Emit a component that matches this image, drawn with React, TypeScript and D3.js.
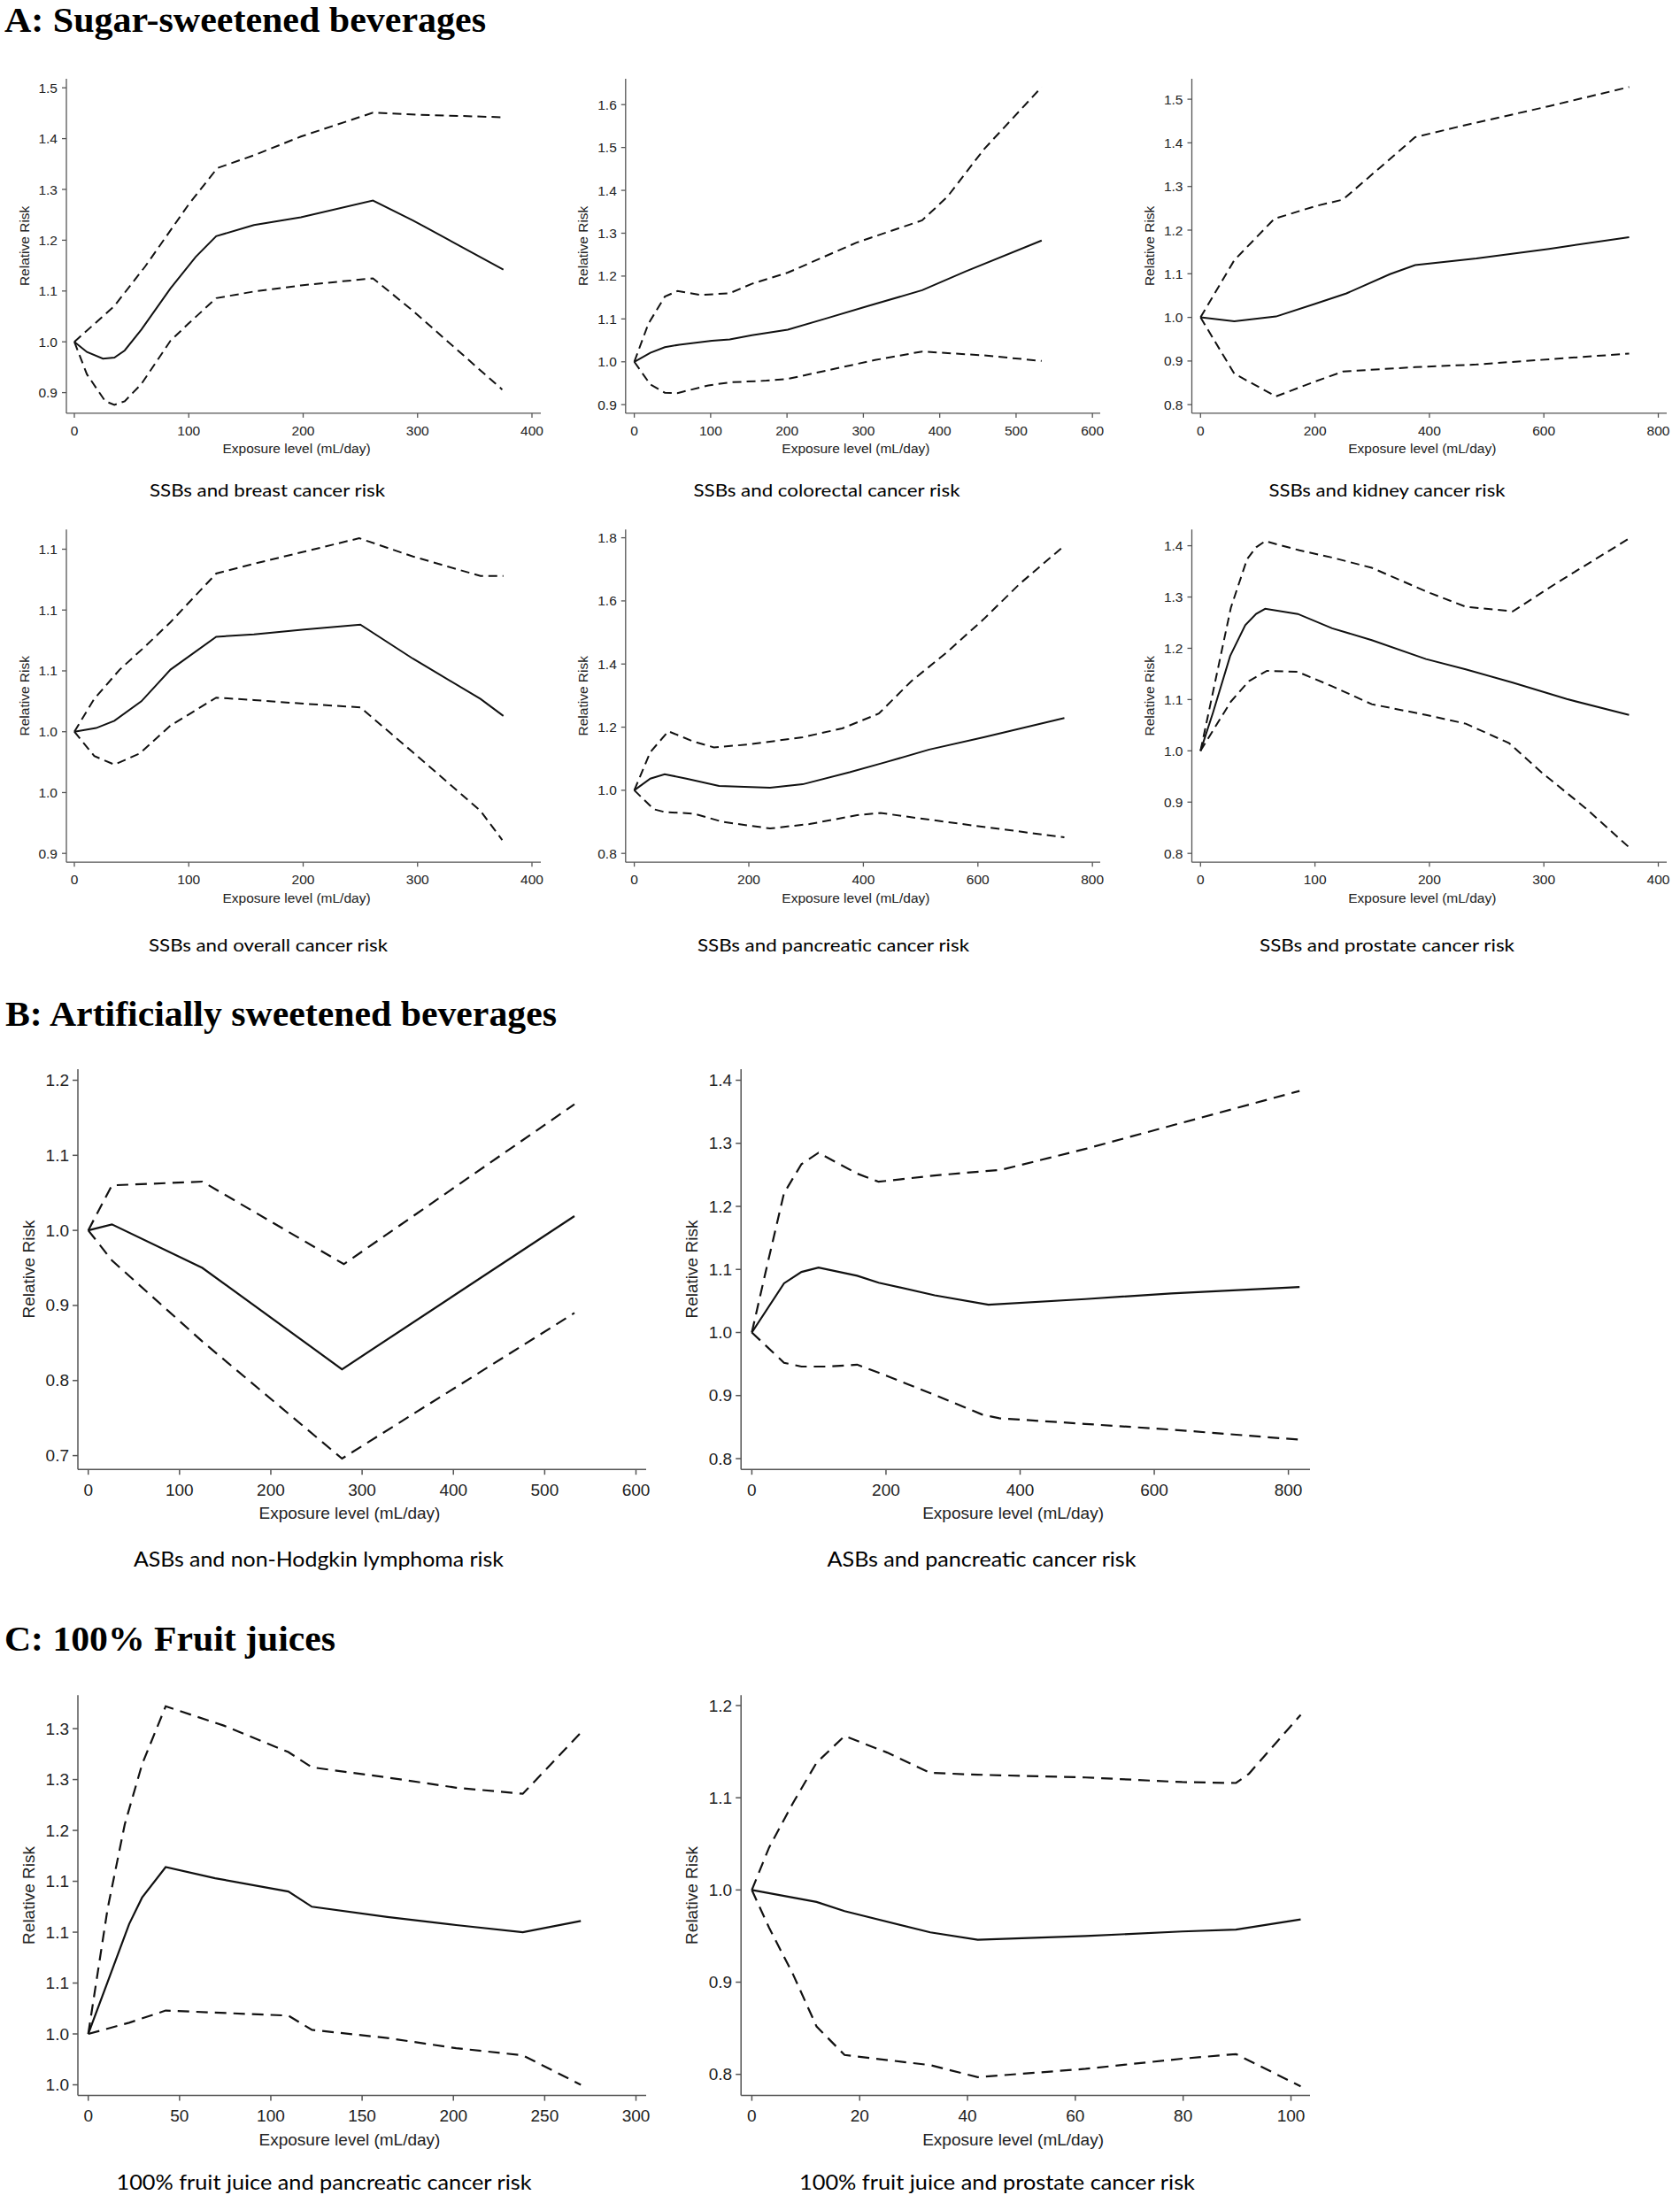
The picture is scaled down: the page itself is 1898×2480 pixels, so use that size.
import React from "react";
import * as d3 from "d3";

type Pt = [number, number];

// ---------- Data (exposure mL/day, relative risk) ----------
// A1: SSBs and breast cancer
const breastUpper: Pt[] = [[0,1.0],[34.8,1.07],[61.8,1.148],[99.8,1.27],[125,1.342],[156.8,1.367],[198,1.404],[261,1.451],[302,1.447],[375,1.442]];
const breastRR: Pt[] = [[0,1.0],[11,0.98],[25,0.967],[35,0.969],[44,0.983],[58.6,1.024],[84,1.105],[106,1.167],[124,1.208],[157,1.23],[198,1.245],[261,1.278],[296,1.239],[375,1.142]];
const breastLower: Pt[] = [[0,1.0],[11,0.936],[27,0.883],[35,0.876],[44,0.883],[58.6,0.917],[84,1.002],[99.8,1.036],[124,1.086],[157,1.099],[198,1.111],[261,1.125],[296,1.061],[374,0.906]];

// A2: SSBs and colorectal cancer
const colorectalUpper: Pt[] = [[0,1.0],[18.5,1.089],[40,1.152],[56.5,1.165],[87,1.156],[125,1.16],[154,1.182],[201,1.208],[291,1.278],[377,1.33],[410,1.385],[458,1.496],[533.5,1.641]];
const colorectalRR: Pt[] = [[0,1.0],[21,1.021],[40,1.034],[59,1.04],[101.6,1.049],[125,1.052],[154,1.062],[201,1.075],[249,1.1],[306,1.13],[377,1.167],[434,1.211],[533.5,1.283]];
const colorectalLower: Pt[] = [[0,1.0],[21,0.947],[40,0.928],[56.5,0.927],[97,0.945],[125,0.952],[173,0.956],[201,0.96],[258,0.982],[315,1.004],[377,1.024],[458,1.015],[533.5,1.002]];

// A3: SSBs and kidney cancer
const kidneyUpper: Pt[] = [[0,1.0],[59,1.131],[129,1.226],[201,1.255],[249,1.27],[375,1.413],[451,1.437],[609,1.484],[749,1.528]];
const kidneyRR: Pt[] = [[0,1.0],[59,0.991],[132,1.002],[198,1.03],[255,1.055],[331,1.099],[375,1.12],[482,1.135],[609,1.157],[749,1.184]];
const kidneyLower: Pt[] = [[0,1.0],[59,0.871],[132,0.819],[198,0.852],[249,0.876],[375,0.886],[482,0.892],[609,0.904],[749,0.917]];

// A4: SSBs and overall cancer
const overallUpper: Pt[] = [[0,1.0],[17.4,1.027],[39.6,1.051],[61.8,1.07],[84,1.09],[124,1.13],[157,1.138],[201,1.148],[249,1.159],[296,1.144],[355,1.128],[375,1.128]];
const overallRR: Pt[] = [[0,1.0],[19,1.003],[35,1.009],[58.6,1.025],[84,1.051],[124,1.078],[157,1.08],[201,1.084],[250,1.088],[296,1.06],[355,1.027],[375,1.013]];
const overallLower: Pt[] = [[0,1.0],[17.4,0.98],[35,0.973],[57,0.982],[84,1.005],[124,1.028],[157,1.026],[201,1.023],[250,1.02],[296,0.983],[355,0.935],[374,0.911]];

// A5: SSBs and pancreatic cancer
const pancUpper: Pt[] = [[0,1.0],[28,1.121],[59.5,1.187],[104,1.154],[139,1.136],[199,1.145],[294,1.168],[363,1.196],[427,1.243],[484,1.346],[547,1.439],[610,1.542],[673,1.654],[751,1.775]];
const pancRR: Pt[] = [[0,1.0],[28,1.037],[53,1.051],[91,1.037],[148,1.014],[237,1.008],[294,1.019],[376,1.057],[439,1.089],[515,1.129],[610,1.168],[751,1.229]];
const pancLower: Pt[] = [[0,1.0],[34,0.94],[53,0.931],[104,0.926],[154,0.9],[237,0.879],[306,0.893],[389,0.921],[430,0.928],[515,0.907],[610,0.884],[751,0.851]];

// A6: SSBs and prostate cancer
const prostateUpper: Pt[] = [[0,1.0],[26.5,1.279],[40.7,1.374],[48.6,1.397],[56.5,1.409],[86.5,1.391],[115,1.377],[149.6,1.357],[197,1.311],[231.7,1.281],[272.8,1.272],[313.8,1.331],[374.4,1.414]];
const prostateRR: Pt[] = [[0,1.0],[10.7,1.073],[25.9,1.185],[39.1,1.245],[48.6,1.267],[56.5,1.277],[85,1.267],[115,1.239],[149.6,1.216],[197,1.179],[231.7,1.159],[272.8,1.133],[320,1.101],[374.4,1.07]];
const prostateLower: Pt[] = [[0,1.0],[10.7,1.039],[26.5,1.096],[42.3,1.136],[58,1.156],[85,1.154],[115,1.126],[149.6,1.091],[197,1.07],[231.7,1.053],[269.6,1.015],[298,0.958],[336,0.889],[374.4,0.812]];

// B1: ASBs and non-Hodgkin lymphoma
const nhlUpper: Pt[] = [[0,1.0],[25.9,1.06],[125,1.065],[280,0.955],[532.6,1.168]];
const nhlRR: Pt[] = [[0,1.0],[25.9,1.008],[125,0.95],[278,0.815],[532.6,1.019]];
const nhlLower: Pt[] = [[0,1.0],[11.8,0.982],[25.9,0.96],[125,0.852],[278,0.696],[532.6,0.89]];

// B2: ASBs and pancreatic cancer
const asbPancUpper: Pt[] = [[0,1.0],[22.5,1.105],[48,1.221],[74,1.267],[99.4,1.285],[157,1.252],[189,1.239],[272.6,1.249],[372,1.258],[497,1.291],[625.5,1.328],[816.6,1.383]];
const asbPancRR: Pt[] = [[0,1.0],[48,1.078],[74,1.096],[99.4,1.103],[157,1.09],[189,1.079],[272.6,1.059],[352.8,1.044],[497,1.053],[625.5,1.062],[816.6,1.072]];
const asbPancLower: Pt[] = [[0,1.0],[48,0.952],[74,0.946],[112,0.946],[157,0.949],[202,0.931],[272.6,0.901],[343,0.87],[369,0.864],[497,0.855],[625.5,0.846],[816.6,0.83]];

// C1: 100% fruit juice and pancreatic cancer
const juicePancUpper: Pt[] = [[0,1.0],[10.6,1.123],[20,1.206],[29.5,1.265],[42.4,1.322],[74.2,1.303],[109.6,1.277],[122.5,1.262],[163.8,1.252],[201.5,1.242],[238,1.236],[269.8,1.296]];
const juicePancRR: Pt[] = [[0,1.0],[10.6,1.051],[22.4,1.108],[29.5,1.134],[42.4,1.164],[69.5,1.153],[109.6,1.14],[122.5,1.125],[163.8,1.115],[201.5,1.107],[238,1.1],[269.8,1.111]];
const juicePancLower: Pt[] = [[0,1.0],[22.4,1.011],[42.4,1.023],[109.6,1.018],[122.5,1.004],[163.8,0.996],[201.5,0.986],[238,0.979],[269.8,0.95]];

// C2: 100% fruit juice and prostate cancer
const juiceProUpper: Pt[] = [[0,1.0],[3.2,1.046],[7.6,1.094],[12,1.138],[17.2,1.167],[25.1,1.149],[33.1,1.127],[41.9,1.125],[61.9,1.122],[79.8,1.117],[89.8,1.116],[92.2,1.126],[101.8,1.19]];
const juiceProRR: Pt[] = [[0,1.0],[12,0.987],[17.2,0.977],[33.1,0.954],[41.9,0.946],[61.9,0.95],[79.8,0.955],[89.8,0.957],[101.8,0.968]];
const juiceProLower: Pt[] = [[0,1.0],[3.2,0.959],[7.6,0.909],[12,0.852],[17.2,0.821],[33.1,0.81],[41.9,0.797],[61.9,0.806],[79.8,0.817],[89.8,0.822],[101.8,0.787]];

// ---------- Ticks ----------
const yTicksBreast = [0.9, 1.0, 1.1, 1.2, 1.3, 1.4, 1.5];
const yTicksColorectal = [0.9, 1.0, 1.1, 1.2, 1.3, 1.4, 1.5, 1.6];
const yTicksKidney = [0.8, 0.9, 1.0, 1.1, 1.2, 1.3, 1.4, 1.5];
const yTicksOverall = [0.9, 0.95, 1.0, 1.05, 1.1, 1.15];
const yLabelsOverall = ["0.9", "1.0", "1.0", "1.1", "1.1", "1.1"];
const yTicksPanc = [0.8, 1.0, 1.2, 1.4, 1.6, 1.8];
const yTicksProstate = [0.8, 0.9, 1.0, 1.1, 1.2, 1.3, 1.4];
const yTicksNhl = [0.7, 0.8, 0.9, 1.0, 1.1, 1.2];
const yTicksAsbPanc = [0.8, 0.9, 1.0, 1.1, 1.2, 1.3, 1.4];
const yTicksJuicePanc = [0.95, 1.0, 1.05, 1.1, 1.15, 1.2, 1.25, 1.3];
const yLabelsJuicePanc = ["1.0", "1.0", "1.1", "1.1", "1.1", "1.2", "1.3", "1.3"];
const yTicksJuicePro = [0.8, 0.9, 1.0, 1.1, 1.2];

const xTicks400 = [0, 100, 200, 300, 400];
const xTicks600 = [0, 100, 200, 300, 400, 500, 600];
const xTicks800 = [0, 200, 400, 600, 800];
const xTicks300 = [0, 50, 100, 150, 200, 250, 300];
const xTicks100 = [0, 20, 40, 60, 80, 100];

const headings = ["A: Sugar-sweetened beverages", "B: Artificially sweetened beverages", "C: 100% Fruit juices"];
const yAxisTitle = "Relative Risk";
const xAxisTitle = "Exposure level (mL/day)";

// ---------- Layout (pixel positions) ----------
type Layout = {
  yAxisX: number; xAxisY: number; axisTop: number; axisRight: number;
  x0: number; x1: number; pyLo: number; pyHi: number;
  subX: number; subY: number; subW: number; g: "A" | "B";
};

const styleA = { tickFont: 15.5, tickLen: 5, dash: "10,6", lineW: 2, subFont: 20, xLabelOff: 19.5, xTitleOff: 40, yTitleOff: 48, xTitleShift: -8, labelGap: 10, axisW: 1.3 };
const styleB = { tickFont: 19, tickLen: 6, dash: "13,8", lineW: 2.2, subFont: 24, xLabelOff: 23.3, xTitleOff: 49.4, yTitleOff: 56, xTitleShift: -14, labelGap: 10, axisW: 1.5 };

type PanelDef = {
  upper: Pt[]; rr: Pt[]; lower: Pt[];
  yTicks: number[]; yLabels?: string[]; xTicks: number[];
  subtitle: string; layout: Layout;
};

const panels: PanelDef[] = [
  { upper: breastUpper, rr: breastRR, lower: breastLower, yTicks: yTicksBreast, xTicks: xTicks400, subtitle: "SSBs and breast cancer risk",
    layout: { yAxisX: 75, xAxisY: 466.9, axisTop: 88.9, axisRight: 611, x0: 84, x1: 601, pyLo: 443.6, pyHi: 99.2, subX: 302, subY: 561, subW: 266, g: "A" } },
  { upper: colorectalUpper, rr: colorectalRR, lower: colorectalLower, yTicks: yTicksColorectal, xTicks: xTicks600, subtitle: "SSBs and colorectal cancer risk",
    layout: { yAxisX: 706.8, xAxisY: 466.9, axisTop: 88.9, axisRight: 1243, x0: 716.6, x1: 1234.2, pyLo: 457.2, pyHi: 118.2, subX: 934, subY: 561, subW: 301, g: "A" } },
  { upper: kidneyUpper, rr: kidneyRR, lower: kidneyLower, yTicks: yTicksKidney, xTicks: xTicks800, subtitle: "SSBs and kidney cancer risk",
    layout: { yAxisX: 1346.5, xAxisY: 466.9, axisTop: 88.9, axisRight: 1883, x0: 1356.3, x1: 1873.5, pyLo: 457.2, pyHi: 112.1, subX: 1567, subY: 561, subW: 267, g: "A" } },
  { upper: overallUpper, rr: overallRR, lower: overallLower, yTicks: yTicksOverall, yLabels: yLabelsOverall, xTicks: xTicks400, subtitle: "SSBs and overall cancer risk",
    layout: { yAxisX: 75, xAxisY: 974.2, axisTop: 598.3, axisRight: 611, x0: 84, x1: 601, pyLo: 964.2, pyHi: 620.5, subX: 303, subY: 1074.5, subW: 270, g: "A" } },
  { upper: pancUpper, rr: pancRR, lower: pancLower, yTicks: yTicksPanc, xTicks: xTicks800, subtitle: "SSBs and pancreatic cancer risk",
    layout: { yAxisX: 706.8, xAxisY: 974.2, axisTop: 598.3, axisRight: 1243, x0: 716.6, x1: 1234.2, pyLo: 964.2, pyHi: 607.6, subX: 941.5, subY: 1074.5, subW: 307, g: "A" } },
  { upper: prostateUpper, rr: prostateRR, lower: prostateLower, yTicks: yTicksProstate, xTicks: xTicks400, subtitle: "SSBs and prostate cancer risk",
    layout: { yAxisX: 1346.5, xAxisY: 974.2, axisTop: 598.3, axisRight: 1883, x0: 1356.3, x1: 1873.5, pyLo: 964.2, pyHi: 616.6, subX: 1567, subY: 1074.5, subW: 288, g: "A" } },
  { upper: nhlUpper, rr: nhlRR, lower: nhlLower, yTicks: yTicksNhl, xTicks: xTicks600, subtitle: "ASBs and non-Hodgkin lymphoma risk",
    layout: { yAxisX: 88, xAxisY: 1660.2, axisTop: 1207.9, axisRight: 730, x0: 99.7, x1: 718.5, pyLo: 1644.6, pyHi: 1220.5, subX: 360, subY: 1770, subW: 418, g: "B" } },
  { upper: asbPancUpper, rr: asbPancRR, lower: asbPancLower, yTicks: yTicksAsbPanc, xTicks: xTicks800, subtitle: "ASBs and pancreatic cancer risk",
    layout: { yAxisX: 837.2, xAxisY: 1660.2, axisTop: 1207.9, axisRight: 1480, x0: 849.4, x1: 1455.6, pyLo: 1648, pyHi: 1220.5, subX: 1109, subY: 1770, subW: 349, g: "B" } },
  { upper: juicePancUpper, rr: juicePancRR, lower: juicePancLower, yTicks: yTicksJuicePanc, yLabels: yLabelsJuicePanc, xTicks: xTicks300, subtitle: "100% fruit juice and pancreatic cancer risk",
    layout: { yAxisX: 88, xAxisY: 2367.6, axisTop: 1915.3, axisRight: 730, x0: 99.7, x1: 718.5, pyLo: 2355.5, pyHi: 1953.1, subX: 366, subY: 2474, subW: 469, g: "B" } },
  { upper: juiceProUpper, rr: juiceProRR, lower: juiceProLower, yTicks: yTicksJuicePro, xTicks: xTicks100, subtitle: "100% fruit juice and prostate cancer risk",
    layout: { yAxisX: 837.2, xAxisY: 2367.6, axisTop: 1915.3, axisRight: 1480, x0: 849.4, x1: 1458.5, pyLo: 2343.7, pyHi: 1927, subX: 1126.5, subY: 2474, subW: 447, g: "B" } },
];

const headingPos = [
  { x: 5, y: 36, w: 544 },
  { x: 6, y: 1159, w: 623 },
  { x: 5, y: 1865, w: 374 },
];

const AXIS = "#555";
const TEXT = "#222";
const LINE = "#111";
const SANS = "'Liberation Sans', Arial, sans-serif";

function Panel({ p }: { p: PanelDef }) {
  const L = p.layout;
  const s = L.g === "A" ? styleA : styleB;
  const x = d3.scaleLinear().domain([0, p.xTicks[p.xTicks.length - 1]]).range([L.x0, L.x1]);
  const y = d3.scaleLinear().domain([p.yTicks[0], p.yTicks[p.yTicks.length - 1]]).range([L.pyLo, L.pyHi]);
  const line = d3.line<Pt>().x((d) => x(d[0])).y((d) => y(d[1]));
  const fmt = d3.format(".1f");
  const yMid = (L.axisTop + L.xAxisY) / 2;
  const xMid = (L.yAxisX + L.axisRight) / 2 + s.xTitleShift;
  return (
    <g>
      <line x1={L.yAxisX} x2={L.yAxisX} y1={L.axisTop} y2={L.xAxisY} stroke={AXIS} strokeWidth={s.axisW} />
      <line x1={L.yAxisX} x2={L.axisRight} y1={L.xAxisY} y2={L.xAxisY} stroke={AXIS} strokeWidth={s.axisW} />
      {p.yTicks.map((t, i) => (
        <g key={"y" + i}>
          <line x1={L.yAxisX - s.tickLen} x2={L.yAxisX} y1={y(t)} y2={y(t)} stroke={AXIS} strokeWidth={s.axisW} />
          <text x={L.yAxisX - s.labelGap} y={y(t)} textAnchor="end" dominantBaseline="central" fontFamily={SANS} fontSize={s.tickFont} fill={TEXT}>
            {p.yLabels ? p.yLabels[i] : fmt(t)}
          </text>
        </g>
      ))}
      {p.xTicks.map((t, i) => (
        <g key={"x" + i}>
          <line x1={x(t)} x2={x(t)} y1={L.xAxisY} y2={L.xAxisY + s.tickLen} stroke={AXIS} strokeWidth={s.axisW} />
          <text x={x(t)} y={L.xAxisY + s.xLabelOff} textAnchor="middle" dominantBaseline="central" fontFamily={SANS} fontSize={s.tickFont} fill={TEXT}>
            {t}
          </text>
        </g>
      ))}
      <text x={xMid} y={L.xAxisY + s.xTitleOff} textAnchor="middle" dominantBaseline="central" fontFamily={SANS} fontSize={s.tickFont} fill={TEXT}>
        {xAxisTitle}
      </text>
      <text transform={`translate(${L.yAxisX - s.yTitleOff},${yMid}) rotate(-90)`} textAnchor="middle" dominantBaseline="central" fontFamily={SANS} fontSize={s.tickFont} fill={TEXT}>
        {yAxisTitle}
      </text>
      <path d={line(p.upper) || ""} fill="none" stroke={LINE} strokeWidth={s.lineW} strokeDasharray={s.dash} />
      <path d={line(p.lower) || ""} fill="none" stroke={LINE} strokeWidth={s.lineW} strokeDasharray={s.dash} />
      <path d={line(p.rr) || ""} fill="none" stroke={LINE} strokeWidth={s.lineW} />
      <text x={L.subX} y={L.subY} textAnchor="middle" fontFamily="Lato, 'Open Sans', sans-serif" fontSize={s.subFont} fill="#000"
        textLength={L.subW} lengthAdjust="spacingAndGlyphs">
        {p.subtitle}
      </text>
    </g>
  );
}

export default function App() {
  return (
    <svg width={1898} height={2480} style={{ position: "absolute", left: 0, top: 0, background: "#fff" }}>
      <rect x={0} y={0} width={1898} height={2480} fill="#fff" />
      {headings.map((h, i) => (
        <text key={h} x={headingPos[i].x} y={headingPos[i].y} fontFamily="'Liberation Serif', 'Times New Roman', serif" fontWeight="bold" fontSize={40} fill="#000"
          textLength={headingPos[i].w} lengthAdjust="spacingAndGlyphs">
          {h}
        </text>
      ))}
      {panels.map((p, i) => (
        <Panel key={i} p={p} />
      ))}
    </svg>
  );
}
